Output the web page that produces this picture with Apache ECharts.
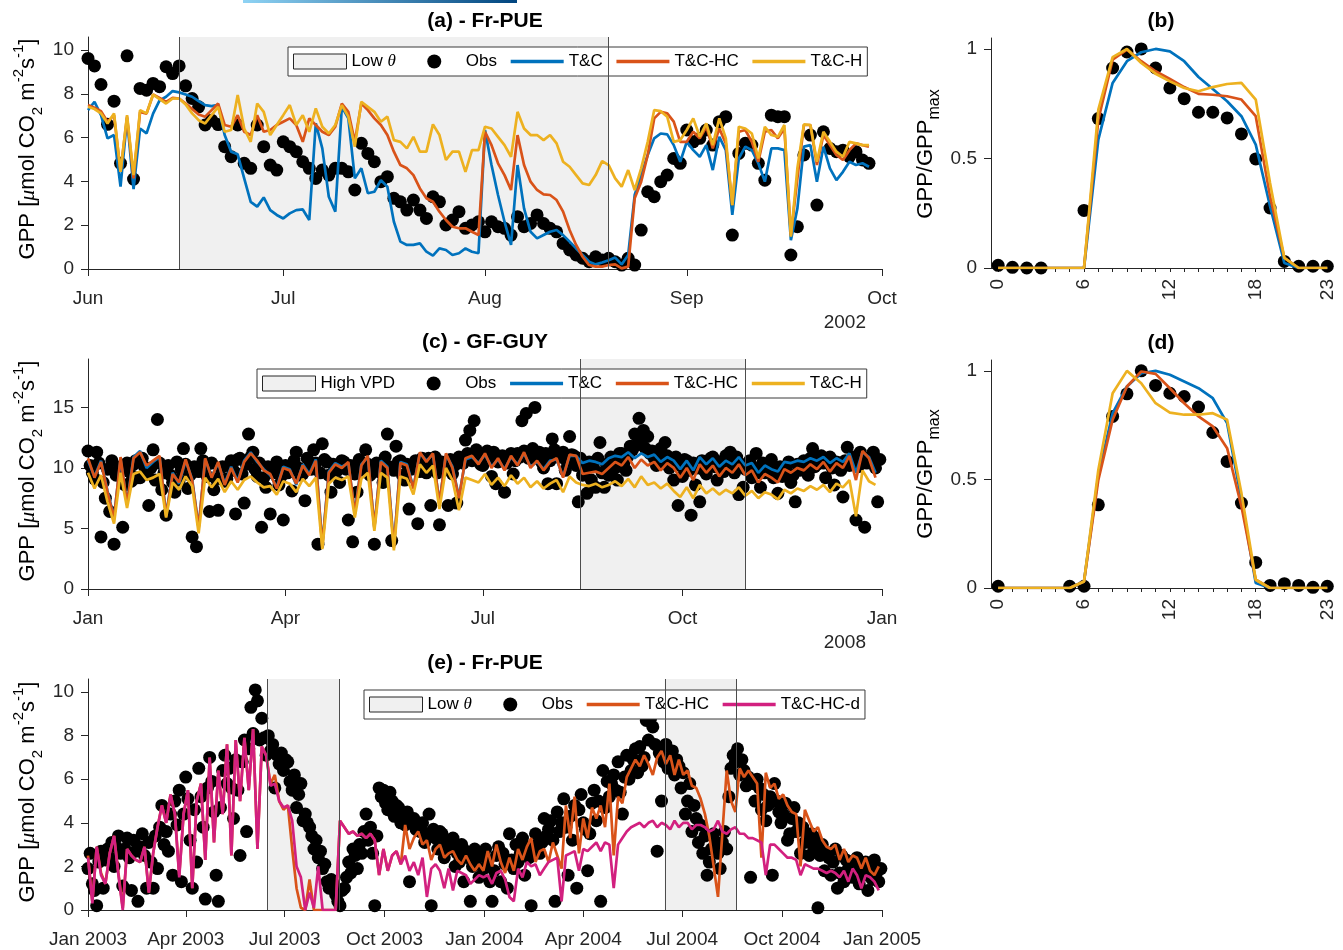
<!DOCTYPE html>
<html>
<head>
<meta charset="utf-8">
<script src="https://cdn.jsdelivr.net/npm/echarts@6/dist/echarts.min.js"></script>
<style>html,body{margin:0;background:#fff}#chart{width:1343px;height:950px}</style>
</head>
<body>
<div id="chart"></div>
<script>
// ---- (a) Fr-PUE, daily, day 0 = 1 Jun 2002
var aTickDays = [0, 30, 61, 92, 122];
var aTickLabels = ['Jun', 'Jul', 'Aug', 'Sep', 'Oct'];
var aDry = [14, 80];
var aObs = [9.62,9.28,8.43,6.61,7.67,4.83,9.74,4.11,8.25,8.17,
  8.48,8.33,9.24,8.93,9.28,8.37,7.79,7.41,6.58,6.80,
  6.60,5.59,5.13,6.58,4.83,4.60,6.58,5.59,4.75,4.52,
  5.81,5.59,5.36,4.90,4.60,4.14,4.52,4.29,4.60,4.60,
  4.44,3.61,5.74,5.28,4.90,3.99,4.22,3.23,3.07,2.69,
  3.15,2.69,2.31,3.30,3.07,2.01,2.24,2.62,1.86,2.01,
  2.16,1.70,2.16,1.93,1.86,1.55,2.39,1.93,2.08,2.47,
  2.08,1.86,1.70,1.17,0.87,0.64,0.49,0.33,0.56,0.41,
  0.49,0.33,0.18,0.49,0.18,1.78,3.53,3.30,3.99,4.29,
  5.05,4.83,6.35,5.81,5.97,6.35,5.66,6.73,6.96,1.55,
  5.28,5.74,5.66,4.83,4.06,7.03,6.96,6.96,0.64,1.93,
  5.21,6.12,2.92,6.27,5.51,5.36,5.43,5.13,5.36,4.98,4.83];
var aTC = [7.26,7.64,7.03,5.97,6.12,3.76,6.88,3.65,6.42,6.20,
  7.10,7.70,7.87,8.13,8.07,7.97,7.87,7.67,7.49,7.44,
  7.50,6.12,5.36,5.24,4.14,3.07,2.85,3.27,2.69,2.47,
  2.31,2.54,2.69,2.72,2.24,6.65,5.51,3.30,2.62,7.41,
  6.88,4.14,4.60,3.46,3.53,4.06,3.76,2.16,1.25,1.10,
  1.10,1.17,0.79,0.61,0.94,0.87,0.64,0.72,0.94,0.79,
  0.72,6.35,4.75,3.38,2.16,1.10,4.75,2.77,1.70,1.40,
  1.55,1.70,1.78,1.55,1.25,0.94,0.64,0.33,0.21,0.30,
  0.40,0.52,0.21,0.64,3.38,4.29,5.21,5.97,6.19,6.15,
  5.66,4.90,5.81,5.43,5.13,5.66,4.52,6.04,5.43,2.47,
  5.05,5.59,5.43,4.83,3.99,5.51,5.51,5.43,1.32,2.77,
  5.59,5.66,3.99,5.59,4.60,4.06,4.44,4.90,4.75,4.83,4.67];
var aTCHC = [7.49,7.37,7.21,6.73,7.03,4.44,6.96,4.14,7.18,7.10,
  7.97,7.82,7.64,7.82,7.79,7.56,7.31,7.06,6.96,7.26,
  7.56,6.58,6.50,7.03,6.27,6.12,7.03,6.27,6.35,6.58,
  6.73,6.88,6.58,5.81,6.88,6.58,6.27,6.12,6.50,7.56,
  7.18,5.81,7.56,7.26,6.88,6.58,6.12,5.36,4.75,4.60,
  4.29,3.68,3.23,3.07,2.62,2.24,1.93,1.86,1.86,1.70,
  1.55,6.27,5.66,4.83,4.29,3.61,6.12,4.75,3.99,3.61,
  3.41,3.38,3.15,2.62,1.78,1.10,0.56,0.18,0.11,0.11,
  0.18,0.21,0.03,0.11,3.23,3.99,5.21,6.88,7.18,7.11,
  6.73,5.81,5.81,6.27,5.97,6.50,5.51,6.42,5.74,2.92,
  6.27,6.35,5.81,4.90,6.27,6.35,5.97,6.42,1.55,4.14,
  6.58,6.58,4.75,6.12,5.66,5.21,4.98,5.43,5.74,5.66,5.59];
var aTCH = [7.41,7.31,7.11,6.65,7.11,4.44,7.03,4.29,7.26,7.11,
  7.97,7.76,7.56,7.79,7.79,7.52,7.11,6.80,6.65,7.03,
  7.41,6.27,6.35,7.95,6.42,5.81,7.56,7.18,6.12,6.58,
  7.03,7.49,6.58,7.03,6.27,7.34,6.50,6.19,6.58,7.49,
  6.96,5.59,7.64,7.41,7.18,6.73,6.96,5.89,5.81,5.51,
  6.04,5.36,5.36,6.61,6.12,4.98,5.36,5.36,4.44,5.43,
  5.43,6.50,6.42,6.04,5.66,5.13,7.18,6.42,6.12,6.12,
  5.89,6.12,5.74,4.90,4.67,4.29,3.91,3.84,4.29,4.93,
  4.75,4.14,3.76,4.52,3.61,4.60,5.81,7.26,7.21,6.96,
  5.81,5.89,6.35,6.88,6.04,6.65,5.66,6.88,5.97,2.92,
  6.50,6.42,6.19,5.05,6.50,6.12,6.04,6.58,1.48,4.60,
  6.61,6.58,4.90,6.27,5.81,5.36,5.13,5.81,5.74,5.66,5.66];

// ---- (b) and (d) mean diurnal cycles
var hours = [0,1,2,3,4,5,6,7,8,9,10,11,12,13,14,15,16,17,18,19,20,21,22,23];
var hourLabels = [0, 6, 12, 18, 23];
var bObs = [0.012,0.003,0,0,null,null,0.263,0.682,0.913,0.986,1.0,0.913,0.822,0.773,0.711,0.711,0.685,0.612,0.498,0.274,0.03,0.008,0.008,0.008];
var bTC = [0,0,0,0,0,0,0,0.586,0.845,0.944,0.985,1.0,0.989,0.944,0.872,0.817,0.761,0.693,0.563,0.282,0.023,0,0,0];
var bTCHC = [0,0,0,0,0,0,0,0.677,0.951,0.997,0.944,0.898,0.863,0.826,0.795,0.791,0.784,0.769,0.693,0.327,0.046,0,0,0];
var bTCH = [0,0,0,0,0,0,0,0.723,0.963,1.0,0.936,0.887,0.852,0.822,0.807,0.826,0.840,0.845,0.769,0.388,0.046,0,0,0];
var dObs = [0.008,null,null,null,null,0.008,0.008,0.383,0.79,0.894,1.0,0.933,0.897,0.882,0.833,0.716,0.583,0.391,0.118,0.012,0.02,0.012,0.003,0.008];
var dTC = [0,0,0,0,0,0,0.03,0.52,0.805,0.928,0.989,1.0,0.982,0.951,0.92,0.874,0.759,0.406,0.023,0,0,0,0,0];
var dTCHC = [0,0,0,0,0,0,0.03,0.498,0.775,0.928,0.997,0.986,0.92,0.851,0.79,0.744,0.644,0.376,0.038,0,0,0,0,0];
var dTCH = [0,0,0,0,0,0,0.03,0.544,0.897,1.0,0.943,0.851,0.808,0.798,0.798,0.805,0.775,0.437,0.038,0,0,0,0,0];

// ---- (c) GF-GUY 2008, day 0 = 1 Jan 2008; obs daily, models every 3 days
var cTickDays = [0, 91, 182, 274, 366];
var cTickLabels = ['Jan', 'Apr', 'Jul', 'Oct', 'Jan'];
var cDry = [227, 303];
var cObsStep = 1, cModStep = 3;
var cObs = [11.4,10.2,9.6,9.1,11.3,10.4,4.3,8.8,7.5,9.9,
  6.4,10.6,3.7,9.4,9.8,10.1,5.1,8.6,10.4,9.7,
  8.9,10.3,10.6,9.2,9.2,10.8,10.1,9.5,6.9,10.0,
  11.5,9.0,14.0,10.4,8.2,9.6,6.1,10.2,9.4,8.8,
  8.0,10.5,9.0,9.9,11.6,10.3,8.3,9.4,4.3,10.1,
  3.5,9.7,11.6,10.6,10.0,9.3,6.4,10.4,8.2,9.1,
  6.5,10.0,10.1,8.9,9.1,10.2,10.6,9.8,6.2,10.7,
  10.8,9.5,7.1,10.3,12.8,10.9,11.3,9.9,9.3,10.4,
  5.1,9.2,8.4,10.1,6.2,9.6,9.8,10.5,8.6,9.3,
  5.7,10.2,9.6,9.7,8.1,10.6,11.3,10.0,9.4,9.5,
  7.3,10.8,10.1,9.9,11.5,10.4,3.7,9.6,12.0,10.7,
  10.5,9.4,8.0,10.3,10.0,9.8,8.8,10.6,10.5,9.9,
  5.7,10.2,3.9,9.5,8.0,10.7,10.2,9.8,11.5,10.3,
  9.4,9.7,3.7,10.4,10.2,9.6,8.8,10.9,12.8,10.1,
  4.0,9.8,11.8,10.5,10.6,9.4,9.0,10.3,6.6,9.9,
  10.2,10.6,5.4,9.7,10.8,10.2,9.6,10.8,6.9,10.0,
  10.9,9.6,5.3,10.5,10.4,9.9,6.9,10.7,9.5,10.2,
  7.1,10.9,10.6,10.4,12.3,11.2,13.1,10.6,13.9,11.5,
  11.0,10.3,10.2,11.1,11.4,10.7,9.3,11.3,8.7,10.5,
  10.7,11.0,8.0,10.4,10.9,11.2,9.5,10.6,11.2,10.9,
  13.9,11.4,14.5,10.8,10.8,11.6,15.0,11.0,11.3,10.5,
  10.0,11.2,8.7,10.6,12.4,11.5,8.7,10.9,10.9,11.3,
  9.8,10.4,12.6,11.1,11.0,10.2,7.2,10.8,9.4,9.9,
  7.9,10.5,9.0,10.1,8.4,10.8,12.1,9.6,8.4,10.3,
  9.4,10.9,10.5,10.0,9.0,11.2,11.2,10.4,9.8,11.0,
  11.8,11.5,12.8,11.9,14.1,12.3,13.1,11.6,12.6,11.2,
  11.4,10.8,10.2,11.3,11.6,10.5,12.1,11.0,10.0,10.6,
  9.0,10.9,6.9,10.2,9.3,10.7,10.6,9.8,6.1,10.4,
  8.6,10.0,7.2,10.6,9.8,9.5,10.4,10.8,10.9,10.1,
  9.0,10.5,10.1,9.7,11.0,10.6,11.3,10.2,9.6,10.9,
  7.8,10.3,8.4,9.9,10.3,10.6,9.2,10.0,11.2,9.6,
  8.4,10.4,9.6,9.8,10.2,10.7,9.2,9.5,7.9,10.1,
  9.3,9.7,10.1,10.5,8.8,9.4,7.2,10.3,9.8,9.9,
  10.6,10.2,9.4,10.8,11.6,10.1,10.3,10.9,11.0,10.4,
  9.2,10.7,10.9,10.0,8.6,10.5,10.4,9.8,7.6,10.6,
  11.7,10.2,10.3,10.9,5.7,10.1,11.3,10.6,5.1,10.4,
  10.8,10.9,11.3,10.0,7.2,10.7];
var cTC = [10.6,9.3,10.6,8.1,5.9,10.7,7.1,10.9,11.4,10.0,
  10.5,10.9,6.1,9.6,8.7,10.6,9.1,5.1,10.7,9.3,
  10.4,8.7,10.1,8.9,10.6,11.3,10.5,9.9,9.4,8.4,
  10.1,9.9,8.6,10.3,9.5,10.7,3.6,9.7,10.4,10.1,
  10.4,6.3,10.3,10.9,5.1,10.6,10.1,3.5,10.5,10.3,
  8.4,11.2,10.6,11.1,7.1,11.1,10.1,7.6,10.7,10.9,
  10.4,11.1,10.1,10.7,9.9,10.9,10.3,11.2,10.1,10.5,
  9.9,10.6,10.7,9.3,11.0,11.0,10.4,10.6,10.5,10.3,
  10.8,11.0,10.9,11.3,10.8,11.2,10.9,11.1,10.5,10.9,
  10.6,9.9,10.6,9.8,10.9,10.3,10.8,10.1,10.6,10.3,
  10.9,10.2,10.4,9.6,10.2,9.9,9.7,10.5,10.4,10.6,
  10.5,10.8,10.6,10.9,10.4,10.8,10.5,11.2,9.6,11.3,
  10.9,9.6];
var cTCHC = [10.8,9.2,10.5,8.0,5.8,10.9,7.0,10.8,11.3,10.2,
  10.6,11.0,6.0,9.5,8.8,10.7,9.0,5.0,10.8,9.2,
  10.5,8.6,10.0,8.8,10.5,11.2,10.6,9.8,9.5,8.3,
  10.0,9.8,8.7,10.2,9.4,10.6,3.5,9.6,10.3,10.0,
  10.5,6.2,10.2,11.0,5.0,10.5,10.0,3.4,10.4,10.2,
  8.3,11.3,10.5,11.2,7.0,11.2,10.0,7.5,10.8,11.0,
  10.3,11.2,10.0,10.8,9.8,11.0,10.2,11.3,10.0,10.6,
  9.8,10.5,10.8,9.2,11.1,11.0,9.5,9.6,9.7,9.5,
  10.0,10.5,10.2,10.9,10.0,10.7,10.2,10.5,9.8,10.4,
  10.0,9.2,10.0,9.0,10.3,9.6,10.2,9.3,10.0,9.6,
  10.3,9.4,9.8,8.8,9.5,9.2,8.8,9.9,9.6,10.0,
  9.8,10.3,9.9,10.5,9.7,10.4,10.0,11.0,9.0,11.4,
  10.8,9.2];
var cTCH = [9.6,8.3,9.4,7.2,5.4,9.6,6.7,9.5,9.7,9.0,
  9.2,9.5,5.9,8.8,8.2,9.3,8.5,4.6,9.2,8.4,
  9.1,8.0,8.9,8.2,9.0,9.3,8.8,8.4,8.5,7.8,
  8.9,8.7,8.0,9.1,8.5,9.2,3.3,8.7,9.2,9.0,
  9.3,5.9,9.1,9.6,4.8,9.6,9.2,3.2,9.3,9.1,
  7.8,10.3,9.6,10.2,6.6,10.0,9.0,6.5,9.2,9.0,
  8.8,9.5,8.6,9.2,8.5,9.4,8.7,9.2,8.4,8.9,
  8.3,8.7,9.0,8.0,9.3,8.8,8.6,8.5,8.7,8.4,
  8.6,8.9,8.5,9.1,8.4,9.3,8.6,8.8,8.3,8.7,
  8.1,7.6,8.4,7.5,8.6,7.9,8.3,7.8,8.2,7.9,
  8.4,7.7,8.1,7.5,8.0,7.8,7.4,8.2,7.9,8.3,
  8.1,8.5,8.2,8.6,8.0,8.7,8.4,9.0,6.0,9.8,
  8.9,8.6];

// ---- (e) Fr-PUE 2003-2004, day 0 = 1 Jan 2003; obs every 2 days, models every 4 days
var eTickDays = [0, 90, 181, 273, 365, 456, 547, 639, 731];
var eTickLabels = ['Jan 2003','Apr 2003','Jul 2003','Oct 2003','Jan 2004','Apr 2004','Jul 2004','Oct 2004','Jan 2005'];
var eDry = [[165, 231], [531, 597]];
var eObsStep = 2, eModStep = 4;
var eObs = [1.9,2.6,1.2,0.9,0.2,2.2,2.7,1.0,2.3,2.8,
  2.4,3.1,2.0,2.9,3.4,2.6,1.1,2.8,3.3,2.4,
  0.9,3.2,2.7,0.4,2.9,3.5,2.5,1.0,3.1,2.2,
  1.0,3.4,1.9,3.8,4.8,3.0,3.6,2.7,4.4,1.6,
  5.0,3.9,5.5,1.3,4.4,6.1,5.1,3.2,1.0,4.6,
  2.2,6.5,5.2,3.8,0.5,5.6,7.0,5.9,4.5,1.6,
  0.4,4.7,6.4,7.1,5.8,6.5,5.6,4.2,6.9,5.5,
  2.5,6.8,7.8,3.6,7.4,9.3,8.1,10.1,9.6,7.8,
  8.8,7.9,7.1,8.0,7.3,7.6,5.6,7.1,6.7,7.2,
  6.4,6.9,6.8,5.9,5.5,6.2,4.7,5.3,5.8,4.1,
  4.4,4.0,3.8,3.4,2.8,3.2,2.4,2.7,1.9,2.1,
  1.3,1.0,1.4,1.2,0.7,0.4,0.2,0.9,1.0,1.5,
  2.2,1.7,2.8,2.5,1.9,3.0,2.6,3.6,4.4,3.2,
  3.8,2.6,0.2,3.4,5.6,5.2,5.5,4.9,4.6,5.4,
  5.0,4.3,4.8,4.7,4.0,4.4,3.9,4.5,1.3,4.1,
  4.2,3.7,3.9,3.6,4.0,3.1,3.5,4.4,0.2,3.7,
  3.3,2.8,3.6,3.5,2.4,3.1,2.8,3.0,3.3,2.0,
  2.6,2.2,3.0,1.3,2.7,2.4,0.4,2.0,2.8,2.4,
  1.5,2.5,1.9,2.8,2.2,1.3,0.4,1.8,2.5,2.9,
  1.3,2.6,2.1,1.0,3.5,2.3,1.9,3.0,2.2,2.6,
  3.3,1.6,2.9,2.4,0.2,2.8,3.5,3.0,2.6,3.1,
  4.2,3.4,3.7,4.1,3.2,0.4,4.5,3.6,4.0,5.1,
  3.8,1.6,4.3,3.2,4.8,1.0,4.6,5.3,4.0,3.7,
  1.8,3.5,4.9,5.5,4.1,5.0,0.4,6.4,4.7,5.9,
  5.2,5.8,6.2,5.5,6.8,5.4,4.4,6.1,7.1,6.0,
  6.4,6.9,7.4,6.3,7.5,6.6,7.0,8.7,7.8,8.8,
  8.4,7.6,2.7,7.2,5.0,6.8,7.6,6.5,7.0,7.3,
  6.2,6.9,6.6,5.6,6.3,4.4,5.0,5.8,3.6,4.8,
  4.2,3.1,3.9,2.6,3.4,1.6,2.2,2.8,3.5,3.1,
  2.6,1.9,3.1,3.6,2.8,5.2,6.5,7.1,6.8,7.4,
  6.2,6.9,6.4,5.7,6.1,1.5,5.8,5.0,6.0,5.6,
  4.6,5.3,4.1,4.8,5.2,1.6,5.8,5.0,4.5,4.0,
  4.4,4.9,3.2,3.5,4.2,4.7,3.6,4.0,2.6,3.8,
  3.1,3.4,2.5,3.5,2.9,3.3,0.1,2.5,3.0,1.8,
  2.6,2.4,1.6,2.2,2.8,1.0,1.7,2.5,1.3,2.3,
  1.9,2.1,1.5,1.8,2.4,1.2,2.0,1.6,2.2,0.9,
  1.9,1.4,2.3,1.7,1.3,1.9];
var eTCHC = [2.5,0.4,2.9,1.7,1.2,2.6,3.4,1.7,0.1,2.8,
  2.5,2.3,2.2,2.9,0.8,2.6,3.8,4.8,4.0,5.3,
  4.4,1.6,4.4,5.5,1.0,5.0,5.8,2.3,7.0,3.1,
  6.4,4.4,7.6,2.5,7.8,5.0,7.9,5.5,8.3,2.8,
  7.5,7.1,5.8,6.2,5.0,4.6,4.8,2.8,1.0,0.1,
  0.0,1.4,0.0,0.0,0.0,0.0,0.0,0.0,4.1,3.8,
  3.5,3.6,3.4,3.5,3.3,3.5,3.2,1.6,2.8,1.8,
  2.5,2.7,2.1,3.9,2.8,3.3,3.6,3.0,3.2,2.3,
  2.8,3.0,2.4,2.6,2.7,2.3,2.1,2.5,2.1,1.8,
  2.1,1.8,2.7,2.0,3.0,2.2,1.7,2.4,1.8,2.8,
  2.3,2.9,3.3,2.2,2.7,2.8,2.2,3.1,2.5,1.9,
  4.8,3.3,5.2,2.6,4.2,3.3,4.7,4.2,4.8,3.8,
  5.8,2.5,5.2,4.9,6.1,6.5,6.9,6.6,7.1,6.7,
  6.2,7.0,7.3,6.7,7.1,6.2,6.9,6.2,6.4,5.7,
  5.6,5.1,4.4,3.4,2.0,0.6,3.5,6.4,5.0,4.5,
  6.5,6.1,6.4,6.1,5.8,2.4,6.3,5.6,5.8,5.1,
  5.3,4.8,4.5,4.4,2.0,4.6,4.1,3.6,3.8,3.2,
  2.9,2.8,3.0,2.3,2.8,2.2,2.5,2.4,1.9,2.4,
  1.8,1.6,2.0];
var eTCHCd = [2.4,0.3,2.9,1.6,1.2,2.6,3.4,1.6,0.0,2.8,
  2.5,2.3,2.2,2.9,0.8,2.6,3.8,4.8,4.0,5.3,
  4.4,1.5,4.4,5.5,1.0,5.0,5.8,2.3,7.0,3.1,
  6.4,4.4,7.6,2.5,7.8,5.0,7.9,5.5,8.3,2.8,
  7.5,7.1,5.7,5.8,5.0,4.7,4.8,4.1,2.0,1.5,
  0.0,0.8,0.1,2.0,0.0,0.0,0.0,0.0,4.1,3.8,
  3.5,3.6,3.4,3.5,3.3,3.5,3.2,1.6,2.8,1.8,
  2.5,2.7,2.1,2.5,1.8,2.2,1.6,2.4,0.6,1.9,
  2.1,1.8,1.0,1.9,0.9,1.8,1.7,1.6,1.2,1.4,
  1.6,1.5,1.6,1.2,1.7,1.8,1.4,0.6,0.4,1.9,
  1.5,2.2,2.0,2.1,1.6,1.9,2.2,2.3,2.4,0.4,
  2.5,2.6,2.7,1.8,2.8,2.7,2.9,3.1,2.7,3.1,
  3.0,1.0,3.0,3.3,3.6,3.8,3.9,4.0,3.8,4.0,
  4.1,3.8,4.0,3.9,3.7,4.1,3.8,4.0,4.0,3.7,
  3.9,3.9,3.8,3.6,3.7,4.1,3.6,3.5,3.7,3.8,
  3.5,3.5,3.3,3.3,3.2,3.1,1.6,3.0,3.0,2.8,
  2.6,2.4,2.4,2.3,1.6,2.1,2.0,1.9,1.9,1.8,
  1.7,1.8,1.7,1.5,1.8,1.3,1.9,1.6,1.0,1.6,
  1.5,1.3,0.9];

// ---- style
var FONT = '"Liberation Sans", Arial, Helvetica, sans-serif';
var INK = '#262626';
var C_TC = '#0072bd', C_HC = '#d95319', C_H = '#edb120', C_D = '#d2207f', SHADE = '#f0f0f0';
// legend marker for Obs: a dot in the middle of a 53x15 slot
var DOT_ICON = 'path://M0,0M53,15M33.5,7.5A7,7,0,1,1,19.5,7.5A7,7,0,1,1,33.5,7.5Z';

function pairs(vals, step) {
  return vals.map(function (v, i) { return [i * step, v]; });
}
function hourPairs(vals) {
  return vals.map(function (v, i) { return [hours[i], v]; });
}

function dateXAxis(grid, max, ticks, labels) {
  return {
    type: 'value', gridIndex: grid, min: 0, max: max,
    axisLine: {show: true, onZero: false, lineStyle: {color: INK, width: 1}},
    axisTick: {show: true, length: 7, customValues: ticks, lineStyle: {color: INK}},
    axisLabel: {customValues: ticks, margin: 20, color: INK, fontSize: 19, fontFamily: FONT,
      formatter: function (v) { var k = ticks.indexOf(v); return k < 0 ? '' : labels[k]; }},
    splitLine: {show: false}
  };
}
function hourXAxis(grid) {
  return {
    type: 'value', gridIndex: grid, min: -0.5, max: 23.05,
    axisLine: {show: true, onZero: false, lineStyle: {color: INK, width: 1}},
    axisTick: {show: true, length: 4, customValues: hours, lineStyle: {color: INK}},
    axisLabel: {customValues: hourLabels, rotate: 90, margin: 11, color: INK, fontSize: 19, fontFamily: FONT,
      formatter: function (v) { return String(v); }},
    splitLine: {show: false}
  };
}
function yAxisOf(grid, max, ticks) {
  return {
    type: 'value', gridIndex: grid, min: 0, max: max,
    axisLine: {show: true, onZero: false, lineStyle: {color: INK, width: 1}},
    axisTick: {show: true, length: 7, customValues: ticks, lineStyle: {color: INK}},
    axisLabel: {customValues: ticks, margin: 14, color: INK, fontSize: 19, fontFamily: FONT,
      formatter: function (v) { return String(v); }},
    splitLine: {show: false}
  };
}

function obsSeries(xi, data, dry) {
  var s = {name: 'Obs', type: 'scatter', xAxisIndex: xi, yAxisIndex: xi, data: data,
    symbolSize: 13, itemStyle: {color: '#000', opacity: 1}, silent: true};
  if (dry) {
    s.markArea = {silent: true, itemStyle: {color: SHADE},
      data: dry.map(function (r) { return [{xAxis: r[0]}, {xAxis: r[1]}]; })};
    var lines = [];
    dry.forEach(function (r) { lines.push({xAxis: r[0]}); lines.push({xAxis: r[1]}); });
    s.markLine = {silent: true, symbol: 'none', label: {show: false},
      lineStyle: {color: '#4d4d4d', width: 1, type: 'solid'}, data: lines};
  }
  return s;
}
function lineSeries(name, xi, data, color) {
  return {name: name, type: 'line', xAxisIndex: xi, yAxisIndex: xi, data: data,
    symbol: 'none', showSymbol: false, silent: true,
    lineStyle: {color: color, width: 2.7}, itemStyle: {color: color}};
}

function legendOf(names, left, top) {
  return {
    left: left, top: top, orient: 'horizontal', selectedMode: false, symbolKeepAspect: false,
    itemWidth: 53, itemHeight: 15, itemGap: 12,
    padding: [6, 5, 6, 5], borderColor: '#3a3a3a', borderWidth: 1, backgroundColor: '#fff',
    textStyle: {color: '#000', fontSize: 17, fontFamily: FONT,
      rich: {i: {fontStyle: 'italic', fontSize: 17, fontFamily: '"Liberation Serif", serif', color: '#000'}}},
    formatter: function (n) { return n === 'Low θ' ? 'Low {i|θ}' : n; },
    data: names.map(function (n) {
      if (n === 'Low θ' || n === 'High VPD') {
        return {name: n, icon: 'rect', itemStyle: {color: SHADE, borderColor: INK, borderWidth: 1}};
      }
      if (n === 'Obs') return {name: n, icon: DOT_ICON, itemStyle: {color: '#000', opacity: 1, borderWidth: 0}};
      return {name: n, itemStyle: {opacity: 0}, lineStyle: {width: 3.5}};
    })
  };
}

function yTitle(x, y) {
  return {type: 'text', x: x, y: y, rotation: Math.PI / 2, silent: true, style: {
    text: 'GPP [{mu|μ}mol CO{sub|2} m{sup|-2}s{sup|-1}]',
    fill: '#000', fontSize: 22, fontFamily: FONT, lineHeight: 34, align: 'center', verticalAlign: 'middle',
    rich: {
      mu: {fontSize: 22, fontStyle: 'italic', fontFamily: '"Liberation Serif", serif', lineHeight: 34, fill: '#000'},
      sub: {fontSize: 15, lineHeight: 15, verticalAlign: 'bottom', fontFamily: FONT, fill: '#000'},
      sup: {fontSize: 15, lineHeight: 15, verticalAlign: 'top', fontFamily: FONT, fill: '#000'}
    }}};
}
function ratioTitle(x, y) {
  return {type: 'text', x: x, y: y, rotation: Math.PI / 2, silent: true, style: {
    text: 'GPP/GPP{sub|max}', fill: '#000', fontSize: 22, fontFamily: FONT, lineHeight: 34,
    align: 'center', verticalAlign: 'middle',
    rich: {sub: {fontSize: 16, lineHeight: 16, verticalAlign: 'bottom', fontFamily: FONT, fill: '#000'}}}};
}
function panelTitle(text, x, y) {
  return {type: 'text', x: x, y: y, silent: true, style: {text: text, fill: '#000',
    fontSize: 21, fontWeight: 'bold', fontFamily: FONT, align: 'center', verticalAlign: 'middle'}};
}
function plainText(text, x, y) {
  return {type: 'text', x: x, y: y, silent: true, style: {text: text, fill: INK,
    fontSize: 19, fontFamily: FONT, align: 'right', verticalAlign: 'middle'}};
}

var chart = echarts.init(document.getElementById('chart'), null, {renderer: 'canvas'});
chart.setOption({
  animation: false,
  backgroundColor: '#fff',
  grid: [
    {left: 88, top: 37, width: 794, height: 232},
    {left: 991, top: 38, width: 337, height: 230},
    {left: 88, top: 359, width: 794, height: 230},
    {left: 991, top: 360, width: 337, height: 228},
    {left: 88, top: 679, width: 794, height: 231}
  ],
  xAxis: [
    dateXAxis(0, 122, aTickDays, aTickLabels),
    hourXAxis(1),
    dateXAxis(2, 366, cTickDays, cTickLabels),
    hourXAxis(3),
    dateXAxis(4, 731, eTickDays, eTickLabels)
  ],
  yAxis: [
    yAxisOf(0, 10.6, [0, 2, 4, 6, 8, 10]),
    yAxisOf(1, 1.05, [0, 0.5, 1]),
    yAxisOf(2, 19, [0, 5, 10, 15]),
    yAxisOf(3, 1.05, [0, 0.5, 1]),
    yAxisOf(4, 10.6, [0, 2, 4, 6, 8, 10])
  ],
  legend: [
    legendOf(['Low θ', 'Obs', 'T&C', 'T&C-HC', 'T&C-H'], 288, 47),
    legendOf(['High VPD', 'Obs', 'T&C', 'T&C-HC', 'T&C-H'], 257, 369),
    legendOf(['Low θ', 'Obs', 'T&C-HC', 'T&C-HC-d'], 364, 690)
  ],
  graphic: [
    {type: 'rect', silent: true, shape: {x: 243, y: 0, width: 274, height: 3},
      style: {fill: new echarts.graphic.LinearGradient(0, 0, 1, 0, [
        {offset: 0, color: '#8fd3f4'}, {offset: 1, color: '#00457f'}])}},
    panelTitle('(a) - Fr-PUE', 485, 21),
    panelTitle('(b)', 1161, 21),
    panelTitle('(c) - GF-GUY', 485, 342),
    panelTitle('(d)', 1161, 343),
    panelTitle('(e) - Fr-PUE', 485, 663),
    yTitle(28, 149), yTitle(28, 471), yTitle(28, 792),
    ratioTitle(926, 154), ratioTitle(926, 474),
    plainText('2002', 866, 323),
    plainText('2008', 866, 643)
  ],
  series: [
    {name: 'Low θ', type: 'line', xAxisIndex: 0, yAxisIndex: 0, data: [], itemStyle: {color: SHADE}},
    {name: 'High VPD', type: 'line', xAxisIndex: 2, yAxisIndex: 2, data: [], itemStyle: {color: SHADE}},
    obsSeries(0, pairs(aObs, 1), [aDry]),
    lineSeries('T&C', 0, pairs(aTC, 1), C_TC),
    lineSeries('T&C-HC', 0, pairs(aTCHC, 1), C_HC),
    lineSeries('T&C-H', 0, pairs(aTCH, 1), C_H),
    obsSeries(1, hourPairs(bObs), null),
    lineSeries('T&C', 1, hourPairs(bTC), C_TC),
    lineSeries('T&C-HC', 1, hourPairs(bTCHC), C_HC),
    lineSeries('T&C-H', 1, hourPairs(bTCH), C_H),
    obsSeries(2, pairs(cObs, cObsStep), [cDry]),
    lineSeries('T&C', 2, pairs(cTC, cModStep), C_TC),
    lineSeries('T&C-HC', 2, pairs(cTCHC, cModStep), C_HC),
    lineSeries('T&C-H', 2, pairs(cTCH, cModStep), C_H),
    obsSeries(3, hourPairs(dObs), null),
    lineSeries('T&C', 3, hourPairs(dTC), C_TC),
    lineSeries('T&C-HC', 3, hourPairs(dTCHC), C_HC),
    lineSeries('T&C-H', 3, hourPairs(dTCH), C_H),
    obsSeries(4, pairs(eObs, eObsStep), eDry),
    lineSeries('T&C-HC', 4, pairs(eTCHC, eModStep), C_HC),
    lineSeries('T&C-HC-d', 4, pairs(eTCHCd, eModStep), C_D)
  ]
});
</script>
</body>
</html>
